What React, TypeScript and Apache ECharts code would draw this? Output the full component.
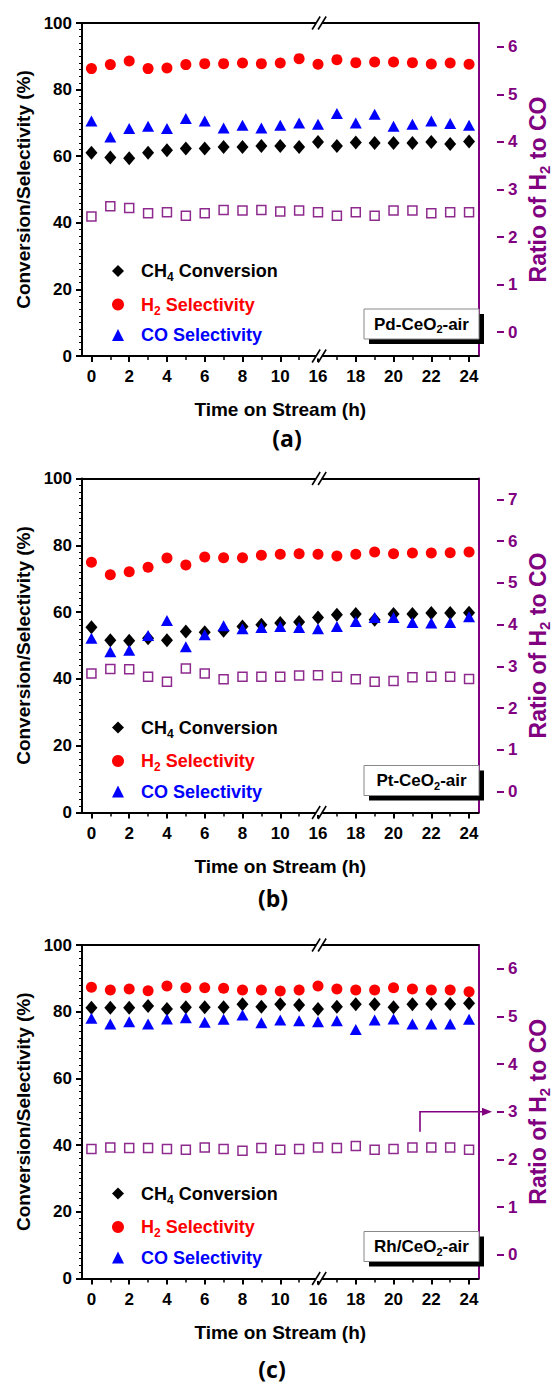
import React, { useEffect, useRef } from "react";
import * as echarts from "echarts";

// ---------------- data ----------------
const hours = ["0", "1", "2", "3", "4", "5", "6", "7", "8", "9", "10", "11", "16", "17", "18", "19", "20", "21", "22", "23", "24"];

// (a) Pd-CeO2-air
const pdCH4 = [61.0, 59.6, 59.4, 61.0, 61.8, 62.3, 62.3, 62.8, 62.8, 63.1, 63.1, 62.8, 64.3, 63.1, 64.1, 64.0, 64.0, 64.0, 64.3, 63.7, 64.4];
const pdH2 = [86.3, 87.5, 88.6, 86.3, 86.5, 87.5, 87.8, 87.8, 88.0, 87.8, 88.0, 89.3, 87.6, 89.0, 88.1, 88.3, 88.3, 88.1, 87.7, 88.0, 87.6];
const pdCO = [70.6, 65.8, 68.3, 69.0, 68.3, 71.3, 70.6, 68.5, 69.3, 68.5, 69.3, 70.0, 69.6, 72.8, 70.0, 72.6, 69.0, 69.6, 70.6, 69.8, 69.3];
const pdRatio = [2.43, 2.65, 2.61, 2.5, 2.52, 2.45, 2.5, 2.57, 2.56, 2.57, 2.54, 2.56, 2.52, 2.45, 2.52, 2.45, 2.56, 2.56, 2.5, 2.52, 2.52];

// (b) Pt-CeO2-air
const ptCH4 = [55.5, 51.6, 51.4, 52.2, 51.6, 54.2, 54.0, 54.4, 55.7, 56.2, 56.7, 57.0, 58.4, 59.2, 59.4, 57.7, 59.4, 59.4, 59.7, 59.7, 59.8];
const ptH2 = [74.9, 71.2, 72.1, 73.4, 76.2, 74.1, 76.5, 76.3, 76.3, 77.0, 77.3, 77.5, 77.3, 76.8, 77.3, 78.0, 77.5, 77.7, 77.7, 77.8, 78.0];
const ptCO = [52.2, 48.1, 48.6, 53.0, 57.5, 49.6, 53.2, 55.9, 55.0, 55.4, 55.7, 55.4, 55.0, 55.7, 57.2, 58.4, 58.4, 56.9, 56.7, 56.9, 58.6];
const ptRatio = [2.83, 2.94, 2.93, 2.75, 2.63, 2.95, 2.83, 2.69, 2.75, 2.75, 2.75, 2.78, 2.79, 2.75, 2.69, 2.63, 2.65, 2.74, 2.75, 2.75, 2.7];

// (c) Rh/CeO2-air
const rhCH4 = [81.2, 81.2, 81.2, 81.7, 80.8, 81.3, 81.3, 81.3, 82.2, 81.5, 82.2, 82.0, 80.8, 81.5, 82.2, 82.2, 81.3, 82.2, 82.3, 82.3, 82.5];
const rhH2 = [87.3, 86.5, 86.8, 86.3, 87.7, 87.2, 87.2, 87.0, 86.5, 86.5, 86.2, 86.5, 87.7, 86.8, 86.5, 86.5, 87.2, 86.8, 86.5, 86.5, 86.0];
const rhCO = [78.0, 76.3, 77.0, 76.3, 77.8, 78.2, 76.8, 77.7, 79.0, 76.7, 77.5, 77.3, 77.0, 77.3, 74.7, 77.5, 77.8, 76.3, 76.3, 76.3, 77.7];
const rhRatio = [2.22, 2.25, 2.24, 2.24, 2.22, 2.2, 2.25, 2.22, 2.18, 2.24, 2.2, 2.22, 2.25, 2.24, 2.28, 2.2, 2.22, 2.25, 2.25, 2.25, 2.2];

const seriesNames = ["CH4 Conversion", "H2 Selectivity", "CO Selectivity"];

// ---------------- layout / style ----------------
const W = 560;
const H = 1386;
const LEFT = 82;
const PLOT_W = 415;
const FONT = "'Liberation Sans', Arial, Helvetica, sans-serif";
const PURPLE = "#800080";
const SQUARE = "#8e2a8e";

const panels = [
  { top: 23, height: 333, ratioMax: 6, ch4: pdCH4, h2: pdH2, co: pdCO, ratio: pdRatio, tag: "Pd-CeO", letter: "(a)", letterX: 287, letterY: 438, arrow: false },
  { top: 478.5, height: 334, ratioMax: 7, ch4: ptCH4, h2: ptH2, co: ptCO, ratio: ptRatio, tag: "Pt-CeO", letter: "(b)", letterX: 273, letterY: 898, arrow: false },
  { top: 945, height: 333.5, ratioMax: 6, ch4: rhCH4, h2: rhH2, co: rhCO, ratio: rhRatio, tag: "Rh/CeO", letter: "(c)", letterX: 272, letterY: 1369, arrow: true },
];

const bold = (size: number, color: string, extra: any = {}) => ({
  fontSize: size,
  fontWeight: "bold",
  fontFamily: FONT,
  color,
  ...extra,
});

function buildOption() {
  const grid: any[] = [];
  const xAxis: any[] = [];
  const yAxis: any[] = [];
  const series: any[] = [];
  const legend: any[] = [];
  const graphic: any[] = [];

  const legendRich = {
    sp: { width: 12 },
    k: bold(18, "#000", { lineHeight: 20 }),
    ks: bold(12, "#000", { lineHeight: 20, padding: [12, 0, 0, 0] }),
    r: bold(18, "#ff0000", { lineHeight: 20 }),
    rs: bold(12, "#ff0000", { lineHeight: 20, padding: [12, 0, 0, 0] }),
    b: bold(18, "#0000ff", { lineHeight: 20 }),
  };

  panels.forEach((p) => {
    const unit = p.height / (p.ratioMax + 1);
    const bottom = p.top + p.height;
    const g = grid.length;
    grid.push({ left: LEFT, top: p.top, width: PLOT_W, height: p.height });
    grid.push({ left: LEFT, top: p.top + unit / 2, width: PLOT_W, height: unit * p.ratioMax });

    const xMain = xAxis.length;
    xAxis.push({
      gridIndex: g,
      type: "category",
      data: hours,
      position: "bottom",
      boundaryGap: true,
      axisLine: { show: true, onZero: false, lineStyle: { color: "#000", width: 2 } },
      axisTick: { show: true, alignWithLabel: true, interval: 1, length: 6, lineStyle: { color: "#000", width: 2 } },
      axisLabel: { interval: 1, margin: 12, ...bold(17, "#000") },
      splitLine: { show: false },
      name: "Time on Stream (h)",
      nameLocation: "middle",
      nameGap: 44,
      nameTextStyle: bold(19, "#000"),
    });
    xAxis.push({
      gridIndex: g,
      type: "category",
      data: hours,
      position: "bottom",
      axisLine: { show: false, onZero: false },
      axisTick: { show: true, alignWithLabel: true, interval: 0, length: 4, lineStyle: { color: "#000", width: 1.5 } },
      axisLabel: { show: false },
      splitLine: { show: false },
    });
    xAxis.push({
      gridIndex: g,
      type: "category",
      data: hours,
      position: "top",
      axisLine: { show: true, onZero: false, lineStyle: { color: "#000", width: 2 } },
      axisTick: { show: false },
      axisLabel: { show: false },
      splitLine: { show: false },
    });
    xAxis.push({ gridIndex: g + 1, type: "category", data: hours, show: false });

    const yL = yAxis.length;
    yAxis.push({
      gridIndex: g,
      type: "value",
      min: 0,
      max: 100,
      interval: 20,
      position: "left",
      axisLine: { show: true, onZero: false, lineStyle: { color: "#000", width: 2 } },
      axisTick: { show: true, length: 6, lineStyle: { color: "#000", width: 2 } },
      minorTick: { show: true, splitNumber: 10, length: 3, lineStyle: { color: "#000", width: 1 } },
      axisLabel: { margin: 10, ...bold(17, "#000") },
      splitLine: { show: false },
      minorSplitLine: { show: false },
      name: "Conversion/Selectivity (%)",
      nameLocation: "middle",
      nameGap: 46,
      nameRotate: 90,
      nameTextStyle: bold(19, "#000"),
    });
    yAxis.push({
      gridIndex: g,
      type: "value",
      min: -0.5,
      max: p.ratioMax + 0.5,
      position: "right",
      axisLine: { show: true, onZero: false, lineStyle: { color: PURPLE, width: 2 } },
      axisTick: { show: false },
      axisLabel: { show: false },
      splitLine: { show: false },
      name: "{t|Ratio of H}{s|2}{t| to CO}",
      nameLocation: "middle",
      nameGap: 46,
      nameRotate: 90,
      nameTextStyle: {
        rich: {
          t: bold(23, PURPLE, { lineHeight: 26 }),
          s: bold(15, PURPLE, { lineHeight: 26, padding: [14, 0, 0, 0] }),
        },
      },
    });
    yAxis.push({
      gridIndex: g + 1,
      type: "value",
      min: 0,
      max: p.ratioMax,
      interval: 1,
      position: "right",
      axisLine: { show: false, onZero: false },
      axisTick: { show: true, length: 7, lineStyle: { color: PURPLE, width: 2 } },
      axisLabel: { margin: 11, ...bold(17, PURPLE) },
      splitLine: { show: false },
    });

    series.push({
      type: "scatter",
      name: seriesNames[0],
      xAxisIndex: xMain,
      yAxisIndex: yL,
      data: p.ch4,
      symbol: "diamond",
      symbolSize: [12, 14],
      itemStyle: { color: "#000", opacity: 1 },
      emphasis: { disabled: true },
    });
    series.push({
      type: "scatter",
      name: seriesNames[1],
      xAxisIndex: xMain,
      yAxisIndex: yL,
      data: p.h2,
      symbol: "circle",
      symbolSize: 11,
      itemStyle: { color: "#ff0000", opacity: 1 },
      emphasis: { disabled: true },
    });
    series.push({
      type: "scatter",
      name: seriesNames[2],
      xAxisIndex: xMain,
      yAxisIndex: yL,
      data: p.co,
      symbol: "triangle",
      symbolSize: [12, 11],
      itemStyle: { color: "#0000ff", opacity: 1 },
      emphasis: { disabled: true },
    });
    series.push({
      type: "scatter",
      name: "H2/CO ratio",
      xAxisIndex: xMain,
      yAxisIndex: yL + 1,
      data: p.ratio,
      symbol: "rect",
      symbolSize: 9,
      itemStyle: { color: "#fff", borderColor: SQUARE, borderWidth: 1.5, opacity: 1 },
      emphasis: { disabled: true },
    });

    legend.push({
      orient: "vertical",
      left: 112,
      top: bottom - 97,
      padding: 0,
      itemWidth: 12,
      itemHeight: 12,
      itemGap: 9.5,
      selectedMode: false,
      itemStyle: { opacity: 1 },
      data: [
        { name: seriesNames[0], icon: "diamond" },
        { name: seriesNames[1], icon: "circle" },
        { name: seriesNames[2], icon: "triangle" },
      ],
      formatter: (n: string) =>
        n === seriesNames[0]
          ? "{sp|}{k|CH}{ks|4}{k| Conversion}"
          : n === seriesNames[1]
          ? "{sp|}{r|H}{rs|2}{r| Selectivity}"
          : "{sp|}{b|CO Selectivity}",
      textStyle: { rich: legendRich },
    });

    // sample label box with shadow
    const bx = 364;
    const bw = 115;
    const bh = 30;
    const by = bottom - 17 - bh;
    graphic.push({ type: "rect", z: 100, shape: { x: bx + 5, y: by + 5, width: bw, height: bh }, style: { fill: "#000" } });
    graphic.push({ type: "rect", z: 101, shape: { x: bx, y: by, width: bw, height: bh }, style: { fill: "#fff", stroke: "#888", lineWidth: 1 } });
    graphic.push({
      type: "text",
      z: 102,
      style: {
        text: "{t|" + p.tag + "}{s|2}{t|-air}",
        x: bx + bw / 2,
        y: by + bh / 2,
        align: "center",
        verticalAlign: "middle",
        rich: {
          t: { fontSize: 17, fontWeight: "bold", fontFamily: FONT, fill: "#000", lineHeight: 20 },
          s: { fontSize: 11, fontWeight: "bold", fontFamily: FONT, fill: "#000", lineHeight: 20, padding: [10, 0, 0, 0] },
        },
      },
    });

    // axis break marks (top and bottom)
    const brk = LEFT + (12 * PLOT_W) / hours.length;
    [p.top, bottom].forEach((yy) => {
      graphic.push({ type: "rect", z: 100, shape: { x: brk - 3, y: yy - 2.5, width: 6, height: 5 }, style: { fill: "#fff" } });
      graphic.push({ type: "line", z: 101, shape: { x1: brk - 7, y1: yy + 6.5, x2: brk + 1, y2: yy - 6.5 }, style: { stroke: "#000", lineWidth: 1.6 } });
      graphic.push({ type: "line", z: 101, shape: { x1: brk - 1, y1: yy + 6.5, x2: brk + 7, y2: yy - 6.5 }, style: { stroke: "#000", lineWidth: 1.6 } });
    });

    // panel letter
    graphic.push({
      type: "text",
      z: 100,
      style: {
        text: p.letter,
        x: p.letterX,
        y: p.letterY,
        align: "center",
        verticalAlign: "middle",
        fontSize: 23,
        lineHeight: 24,
        fontWeight: "bold",
        fontFamily: "'Open Sans', 'Noto Sans', sans-serif",
        fill: "#000",
      },
    });

    if (p.arrow) {
      const ay = p.top + p.height - 3.5 * unit; // ratio = 3
      graphic.push({
        type: "polyline",
        z: 100,
        shape: { points: [[420, ay + 20], [420, ay], [484, ay]] },
        style: { stroke: PURPLE, lineWidth: 1.6, fill: null },
      });
      graphic.push({
        type: "polygon",
        z: 100,
        shape: { points: [[492, ay], [482, ay - 4], [482, ay + 4]] },
        style: { fill: PURPLE },
      });
    }
  });

  return { animation: false, backgroundColor: "#fff", grid, xAxis, yAxis, series, legend, graphic };
}

export default function App() {
  const ref = useRef<HTMLDivElement>(null);
  useEffect(() => {
    if (!ref.current) return;
    const chart = echarts.init(ref.current, undefined, { renderer: "svg" });
    chart.setOption(buildOption() as any);
    return () => chart.dispose();
  }, []);
  return <div ref={ref} style={{ position: "absolute", left: 0, top: 0, width: W, height: H, background: "#fff" }} />;
}
